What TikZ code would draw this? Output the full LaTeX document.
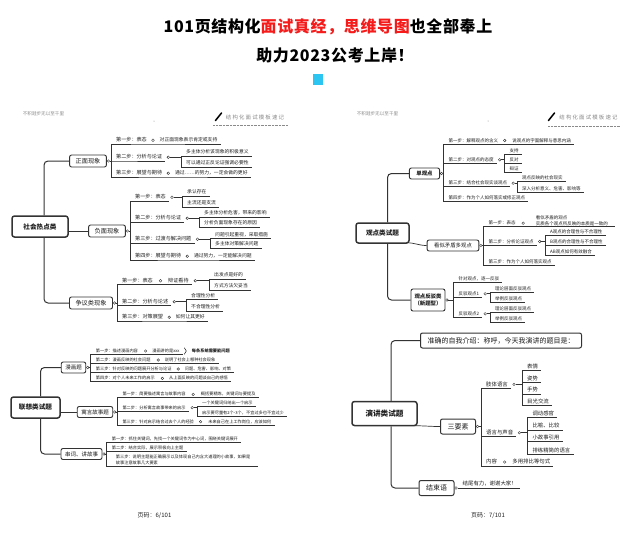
\documentclass[tikz,border=0pt]{standalone}
\usepackage{fontspec}
\setmainfont{Noto Sans CJK SC}
\usetikzlibrary{positioning,decorations.pathreplacing}
\definecolor{ink}{HTML}{1E1E1E}
\definecolor{wire}{HTML}{333333}
\definecolor{faint}{HTML}{8A8A8A}
\definecolor{titlered}{HTML}{F51B1B}
\definecolor{marker}{HTML}{2CC5F2}
\tikzset{
  branch/.style={draw=wire, line width=0.7pt},
  trunk/.style={draw=wire, line width=1pt, rounded corners=4pt},
  knob/.style={circle, draw=wire, fill=white, line width=0.4pt, inner sep=0pt, minimum size=2.6pt},
  item/.style={anchor=south west, text=ink, inner xsep=0pt, inner ysep=0.8pt,
    execute at begin node=\hspace*{5pt}, execute at end node=\hspace*{3pt}},
  stepA/.style={item, font=\fontsize{5.1}{6}\selectfont, text height=4.4pt, text depth=1.1pt},
  leafA/.style={item, font=\fontsize{4.8}{6}\selectfont, text height=4.4pt, text depth=1.1pt},
  leafB/.style={item, font=\fontsize{4.2}{5}\selectfont, text height=3.7pt, text depth=0.9pt},
  leafC/.style={item, font=\fontsize{4.5}{5.4}\selectfont, text height=4pt, text depth=1pt},
  leafD/.style={item, font=\fontsize{5.4}{6.5}\selectfont, text height=4.7pt, text depth=1.2pt},
  twoline/.style={align=left, text height={}, text depth={}, inner xsep=4pt,
    execute at begin node={}, execute at end node={}},
  topic/.style={draw=wire, fill=white, rounded corners=2pt, line width=0.9pt, text=ink,
    font=\fontsize{6.2}{7.4}\selectfont, inner xsep=6pt, inner ysep=0pt, minimum height=12pt},
  topicS/.style={topic, font=\fontsize{5.5}{6.6}\selectfont, inner xsep=4pt, minimum height=11pt},
  topicM/.style={topic, font=\fontsize{5.4}{6.6}\selectfont, inner xsep=7pt, minimum height=11pt},
  topicL/.style={topic, line width=1pt, font=\fontsize{7}{8.4}\selectfont, inner xsep=7pt, minimum height=15pt},
  root/.style={topic, line width=1.5pt, rounded corners=2.5pt, font=\bfseries\fontsize{6.6}{8}\selectfont},
  banner/.style={font=\bfseries\fontsize{16}{19}\selectfont\addfontfeature{LetterSpace=4}, text=black, inner sep=0pt},
  hdr/.style={font=\fontsize{4.6}{5}\selectfont, text=faint, inner sep=0pt},
  hdrwide/.style={font=\fontsize{5.4}{6}\selectfont\addfontfeature{LetterSpace=22}, text=faint, inner sep=0pt},
  penstroke/.style={draw=black, line width=1.5pt, line cap=round},
  dots/.style={draw=faint, line width=0.4pt, dash pattern=on 0.6pt off 0.8pt},
  sumbrace/.style={draw=ink, line width=0.5pt, decorate, decoration={brace, amplitude=2pt}},
  sumtext/.style={font=\bfseries\fontsize{4.2}{5}\selectfont, text=ink, inner sep=0pt},
  pageno/.style={font=\fontsize{6}{7}\selectfont, text=ink, inner sep=0pt}
}
\begin{document}
\begin{tikzpicture}[x=1pt, y=-1pt]
  \path[use as bounding box, fill=white] (0,0) rectangle (643,536);

  % Banner across the top.
  \node[banner] (head1) at (328,27) {101页结构化\textcolor{titlered}{面试真经，思维导图}也全部奉上};
  \node[banner] (head2) at (335,55) {助力2023公考上岸！};
  \fill[marker] (313,74) rectangle (323,85);

  % Page 6: running heads.
  \node[hdr] (mottoL) at (43.5,114) {不积跬步无以至千里};
  \draw[penstroke] (215.5,120.5) -- (221.5,113);
  \node[hdrwide] (noteL) at (255,117) {结构化面试模板速记};
  \draw[dots] (213,125) -- (288,125);
  \fill[faint] (154,121) circle (0.5);

  % Page 6: social hot spots.
  \node[root, minimum width=56pt, minimum height=21pt] (hot) at (40,226.5) {社会热点类};
  \node[topic] (pos) at (88,161) {正面现象};
  \node[topic] (neg) at (107,231) {负面现象};
  \node[topic] (dis) at (91,303) {争议类现象};
  \draw[trunk] ([xshift=4pt]hot.north) |- (pos.west);
  \draw[trunk] ([xshift=4pt]hot.south) |- (dis.west);
  \draw[branch] (hot.east |- neg.west) -- (neg.west);
  \node[knob, right=0pt of pos] (posK) {};
  \node[knob, right=0pt of neg] (negK) {};
  \node[knob, right=0pt of dis] (disK) {};

  \node[stepA] (pos1) at (111,144) {第一步：表态};
  \node[knob, right=1.5pt of pos1] (pos1K) {};
  \node[leafA, right=0pt of pos1K] (pos1a) {对正面现象表示肯定或支持};
  \node[stepA] (pos2) at (111,161) {第二步：分析与论证};
  \node[knob, right=1.5pt of pos2] (pos2K) {};
  \node[leafA] (pos2a) at (181,156) {多主体分析该现象的积极意义};
  \node[leafA] (pos2b) at (181,167) {可以通过正反论证强调必要性};
  \node[stepA] (pos3) at (111,177) {第三步：展望与期待};
  \node[knob, right=1.5pt of pos3] (pos3K) {};
  \node[leafA, right=0pt of pos3K] (pos3a) {通过……的努力，一定会做的更好};
  \draw[branch] (posK.east) -| (pos1.south west) -- (pos1.south east) -- (pos1a.south east)
    (posK.east) -| (pos2.south west) -- (pos2.south east)
    (posK.east) -| (pos3.south west) -- (pos3.south east) -- (pos3a.south east);
  \draw[branch] (pos2K.east) -| (pos2a.south west) -- (pos2a.south east)
    (pos2K.east) -| (pos2b.south west) -- (pos2b.south east);

  \node[stepA] (neg1) at (130,201) {第一步：表态};
  \node[knob, right=1.5pt of neg1] (neg1K) {};
  \node[leafA] (neg1a) at (182,196) {承认存在};
  \node[leafA] (neg1b) at (182,207) {主流还是支流};
  \node[stepA] (neg2) at (130,222) {第二步：分析与论证};
  \node[knob, right=1.5pt of neg2] (neg2K) {};
  \node[leafA] (neg2a) at (199,217) {多主体分析危害，带来的影响};
  \node[leafA] (neg2b) at (199,227) {分析负面现象存在的原因};
  \node[stepA] (neg3) at (130,243) {第三步：过渡与解决问题};
  \node[knob, right=1.5pt of neg3] (neg3K) {};
  \node[leafA] (neg3a) at (210,238.5) {问题引起重视，采取措施};
  \node[leafA] (neg3b) at (210,248) {多主体对策解决问题};
  \node[stepA] (neg4) at (130,260) {第四步：展望与期待};
  \node[knob, right=1.5pt of neg4] (neg4K) {};
  \node[leafA, right=0pt of neg4K] (neg4a) {通过努力，一定能解决问题};
  \draw[branch] (negK.east) -| (neg1.south west) -- (neg1.south east)
    (negK.east) -| (neg2.south west) -- (neg2.south east)
    (negK.east) -| (neg3.south west) -- (neg3.south east)
    (negK.east) -| (neg4.south west) -- (neg4.south east) -- (neg4a.south east);
  \draw[branch] (neg1K.east) -| (neg1a.south west) -- (neg1a.south east)
    (neg1K.east) -| (neg1b.south west) -- (neg1b.south east)
    (neg2K.east) -| (neg2a.south west) -- (neg2a.south east)
    (neg2K.east) -| (neg2b.south west) -- (neg2b.south east)
    (neg3K.east) -| (neg3a.south west) -- (neg3a.south east)
    (neg3K.east) -| (neg3b.south west) -- (neg3b.south east);

  \node[stepA] (dis1) at (117,284.5) {第一步：表态};
  \node[knob, right=3pt of dis1] (dis1K) {};
  \node[stepA, right=1pt of dis1K] (dis1m) {辩证看待};
  \node[knob, right=2pt of dis1m] (dis1mK) {};
  \node[leafA] (dis1a) at (209,279) {出发点是好的};
  \node[leafA] (dis1b) at (209,290) {方式方法欠妥当};
  \node[stepA] (dis2) at (117,305.5) {第二步：分析与论述};
  \node[knob, right=1.5pt of dis2] (dis2K) {};
  \node[leafA] (dis2a) at (186,299.5) {合理性分析};
  \node[leafA] (dis2b) at (186,311) {不合理性分析};
  \node[stepA] (dis3) at (117,321) {第三步：对策展望};
  \node[knob, right=1.5pt of dis3] (dis3K) {};
  \node[leafA, right=0pt of dis3K] (dis3a) {如何让其更好};
  \draw[branch] (disK.east) -| (dis1.south west) -- (dis1.south east) -- (dis1m.south east)
    (disK.east) -| (dis2.south west) -- (dis2.south east)
    (disK.east) -| (dis3.south west) -- (dis3.south east) -- (dis3a.south east);
  \draw[branch] (dis1mK.east) -| (dis1a.south west) -- (dis1a.south east)
    (dis1mK.east) -| (dis1b.south west) -- (dis1b.south east)
    (dis2K.east) -| (dis2a.south west) -- (dis2a.south east)
    (dis2K.east) -| (dis2b.south west) -- (dis2b.south east);

  % Page 6: association questions.
  \node[root, minimum width=49pt, minimum height=21pt] (assoc) at (35.5,407.5) {联想类试题};
  \node[topicS] (comic) at (73.5,367.5) {漫画题};
  \node[topicS] (fable) at (95,412) {寓言故事题};
  \node[topicS] (story) at (81.5,454) {串词、讲故事};
  \draw[trunk] ([xshift=5pt]assoc.north) |- (comic.west);
  \draw[trunk] ([xshift=5pt]assoc.south) |- (story.west);
  \draw[branch] (assoc.east |- fable.west) -- (fable.west);
  \node[knob, right=0pt of comic] (comicK) {};
  \node[knob, right=0pt of fable] (fableK) {};
  \node[knob, right=0pt of story] (storyK) {};

  \node[leafB] (comic1) at (90.7,354.3) {第一步：描述漫画内容};
  \node[knob, right=3pt of comic1] (comic1K) {};
  \node[leafB, right=0pt of comic1K] (comic1a) {漫画讲的是xxx};
  \draw[sumbrace] ([xshift=1.5pt]comic1a.north east) -- ([xshift=1.5pt]comic1a.south east);
  \node[sumtext, anchor=west] (comicSum) at ([xshift=9pt]comic1a.east) {每条系统需要能问题};
  \node[leafB] (comic2) at (90.7,363.3) {第二步：漫画反映的社会问题};
  \node[knob, right=3pt of comic2] (comic2K) {};
  \node[leafB, right=0pt of comic2K] (comic2a) {说明了社会上哪种社会现象};
  \node[leafB] (comic3) at (90.7,372.3) {第三步：针对反映的问题展开分析与论证};
  \node[knob, right=2pt of comic3] (comic3K) {};
  \node[leafB, right=0pt of comic3K] (comic3a) {问题、危害、影响、对策};
  \node[leafB] (comic4) at (90.7,381.7) {第四步：对个人未来工作的启示};
  \node[knob, right=3pt of comic4] (comic4K) {};
  \node[leafB, right=0pt of comic4K] (comic4a) {从上面反映的问题谈自己的感悟};
  \draw[branch] (comicK.east) -| (comic1.south west) -- (comic1a.south east)
    (comicK.east) -| (comic2.south west) -- (comic2a.south east)
    (comicK.east) -| (comic3.south west) -- (comic3a.south east)
    (comicK.east) -| (comic4.south west) -- (comic4a.south east);

  \node[leafB] (fable1) at (117.3,397.7) {第一步：简要描述寓言与故事内容};
  \node[knob, right=3pt of fable1] (fable1K) {};
  \node[leafB, right=1pt of fable1K] (fable1a) {概括要精炼，关键词与要提及};
  \node[leafB] (fable2) at (117.3,411) {第二步：分析寓言故事带来的启示};
  \node[knob, right=2pt of fable2] (fable2K) {};
  \node[leafB] (fable2a) at (197,406.7) {一个关键词归纳出一个启示};
  \node[leafB] (fable2b) at (197,416) {启示要尽量有2个-3个，不宜过多也不宜过少};
  \node[leafB] (fable3) at (117.3,425) {第三步：针对启示结合过去个人的经验};
  \node[knob, right=2pt of fable3] (fable3K) {};
  \node[leafB, right=1pt of fable3K] (fable3a) {未来自己在上工作岗位，应该如何};
  \draw[branch] (fableK.east) -| (fable1.south west) -- (fable1a.south east)
    (fableK.east) -| (fable2.south west) -- (fable2.south east)
    (fableK.east) -| (fable3.south west) -- (fable3a.south east);
  \draw[branch] (fable2K.east) -| (fable2a.south west) -- (fable2a.south east)
    (fable2K.east) -| (fable2b.south west) -- (fable2b.south east);

  \node[leafB] (story1) at (106.7,442.7) {第一步：抓住关键词，先找一个关键词作为中心词，围绕关键词展开};
  \node[leafB] (story2) at (106.7,451) {第二步：结合实际，展示积极向上主题};
  \node[leafB, twoline, font=\fontsize{4.2}{5.7}\selectfont] (story3) at (106.7,466)
    {第三步：说明主题能正确展示以及体现自己内含大道理的小故事，如果是\\故事注意故事几大要素};
  \draw[branch] (storyK.east) -| (story1.south west) -- (story1.south east)
    (storyK.east) -| (story2.south west) -- (story2.south east)
    (storyK.east) -| (story3.south west) -- (story3.south east);

  \node[pageno] (pageL) at (154.5,516) {页码：6/101};

  % Page 7: running heads.
  \node[hdr] (mottoR) at (377.5,114) {不积跬步无以至千里};
  \draw[penstroke] (548.5,120.5) -- (554.5,113);
  \node[hdrwide] (noteR) at (588.5,117) {结构化面试模板速记};
  \draw[dots] (548,126) -- (620,126);
  \fill[faint] (488,121) circle (0.5);

  % Page 7: viewpoint questions.
  \node[root, minimum width=53pt, minimum height=20pt] (view) at (382.5,233) {观点类试题};
  \node[topicM, font=\bfseries\fontsize{5.4}{6.6}\selectfont] (single) at (424.5,173.5) {单观点};
  \node[topicM] (seem) at (453,245.5) {看似矛盾多观点};
  \node[topicM, font=\bfseries\fontsize{5.4}{7.6}\selectfont, align=center, inner xsep=3.5pt,
    minimum height=22pt] (rebut) at (428,300) {观点反驳类\\（新题型）};
  \draw[trunk] ([xshift=5pt]view.north) |- (single.west);
  \draw[trunk] ([xshift=5pt]view.south) |- (rebut.west);
  \draw[branch] ([xshift=-3pt,yshift=1pt]view.south east) to[out=0, in=180] (seem.west);
  \node[knob, right=0pt of single] (singleK) {};
  \node[knob, right=0pt of seem] (seemK) {};
  \node[knob, right=0pt of rebut] (rebutK) {};

  \node[leafC] (single1) at (443.3,144) {第一步：解释观点的含义};
  \node[knob, right=2pt of single1] (single1K) {};
  \node[leafC, right=1pt of single1K] (single1a) {说观点的字面解释与意思内涵};
  \node[leafC] (single2) at (443.3,163.3) {第二步：对观点的态度};
  \node[knob, right=1.5pt of single2] (single2K) {};
  \node[leafC] (single2a) at (504.3,154) {支持};
  \node[leafC] (single2b) at (504.3,163.3) {反对};
  \node[leafC] (single2c) at (504.3,172.3) {辩证};
  \node[leafC] (single3) at (443.3,186.7) {第三步：结合社会现实谈观点};
  \node[knob, right=1.5pt of single3] (single3K) {};
  \node[leafC] (single3a) at (517,181) {观点反映的社会现实};
  \node[leafC] (single3b) at (517,192.3) {深入分析意义、危害、影响等};
  \node[leafC] (single4) at (443.3,201.7) {第四步：作为个人如何落实或修正观点};
  \draw[branch] (singleK.east) -| (single1.south west) -- (single1a.south east)
    (singleK.east) -| (single2.south west) -- (single2.south east)
    (singleK.east) -| (single3.south west) -- (single3.south east)
    (singleK.east) -| (single4.south west) -- (single4.south east);
  \draw[branch] (single2K.east) -| (single2a.south west) -- (single2a.south east)
    (single2K.east) -| (single2b.south west) -- (single2b.south east)
    (single2K.east) -| (single2c.south west) -- (single2c.south east)
    (single3K.east) -| (single3a.south west) -- (single3a.south east)
    (single3K.east) -| (single3b.south west) -- (single3b.south east);

  \node[leafC] (seem1) at (483.3,226.7) {第一步：表态};
  \node[knob, right=3pt of seem1] (seem1K) {};
  \node[leafC, twoline, font=\fontsize{4.5}{5.8}\selectfont, anchor=south west, xshift=2pt]
    (seem1a) at (seem1K.east |- seem1.south) {看似矛盾的观点\\实质各个观点所反映的本质是一致的};
  \node[leafC] (seem2) at (483.3,245) {第二步：分析论证观点};
  \node[knob, right=1.5pt of seem2] (seem2K) {};
  \node[leafC] (seem2a) at (545,235) {A观点的合理性与不合理性};
  \node[leafC] (seem2b) at (545,245) {B观点的合理性与不合理性};
  \node[leafC] (seem2c) at (545,255) {AB观点如何有效融合};
  \node[leafC] (seem3) at (483.3,265) {第三步：作为个人如何落实观点};
  \draw[branch] (seemK.east) -| (seem1.south west) -- (seem1a.south east)
    (seemK.east) -| (seem2.south west) -- (seem2.south east)
    (seemK.east) -| (seem3.south west) -- (seem3.south east);
  \draw[branch] (seem2K.east) -| (seem2a.south west) -- (seem2a.south east)
    (seem2K.east) -| (seem2b.south west) -- (seem2b.south east)
    (seem2K.east) -| (seem2c.south west) -- (seem2c.south east);

  \node[leafC] (rebut1) at (453.3,282.7) {针对观点，逐一反驳};
  \node[leafC] (rebut2) at (453.3,297.3) {反驳观点1};
  \node[knob, right=1.5pt of rebut2] (rebut2K) {};
  \node[leafC] (rebut2a) at (490,292.7) {理论层面反驳观点};
  \node[leafC] (rebut2b) at (490,302.3) {举例反驳观点};
  \node[leafC] (rebut3) at (453.3,317.3) {反驳观点2};
  \node[knob, right=1.5pt of rebut3] (rebut3K) {};
  \node[leafC] (rebut3a) at (490,312.7) {理论层面反驳观点};
  \node[leafC] (rebut3b) at (490,322.3) {举例反驳观点};
  \draw[branch] (rebutK.east) -| (rebut1.south west) -- (rebut1.south east)
    (rebutK.east) -| (rebut2.south west) -- (rebut2.south east)
    (rebutK.east) -| (rebut3.south west) -- (rebut3.south east);
  \draw[branch] (rebut2K.east) -| (rebut2a.south west) -- (rebut2a.south east)
    (rebut2K.east) -| (rebut2b.south west) -- (rebut2b.south east)
    (rebut3K.east) -| (rebut3a.south west) -- (rebut3a.south east)
    (rebut3K.east) -| (rebut3b.south west) -- (rebut3b.south east);

  % Page 7: speech questions.
  \node[root, minimum width=65pt, minimum height=24pt, font=\bfseries\fontsize{7.6}{9}\selectfont]
    (speech) at (384.5,413.5) {演讲类试题};
  \node[topicL] (intro) at (501,340.5) {准确的自我介绍：称呼，今天我演讲的题目是：};
  \node[topicL] (three) at (458,426.5) {三要素};
  \node[topicL] (close) at (436.5,488) {结束语};
  \draw[trunk] ([xshift=6.5pt]speech.north) |- (intro.west);
  \draw[trunk] ([xshift=6.5pt]speech.south) |- (close.west);
  \draw[branch] ([xshift=-3pt,yshift=0.5pt]speech.south east) to[out=0, in=180] (three.west);
  \node[knob, right=0pt of three] (threeK) {};
  \node[knob, right=0pt of close] (closeK) {};

  \node[leafD] (three1) at (481,388.3) {肢体语言};
  \node[knob, right=1.5pt of three1] (three1K) {};
  \node[leafD] (three1a) at (522,370.7) {表情};
  \node[leafD] (three1b) at (522,382.3) {姿势};
  \node[leafD] (three1c) at (522,394) {手势};
  \node[leafD] (three1d) at (522,405.3) {目光交流};
  \node[leafD] (three2) at (481,436.7) {语言与声音};
  \node[knob, right=1.5pt of three2] (three2K) {};
  \node[leafD] (three2a) at (527.3,417.3) {调动感官};
  \node[leafD] (three2b) at (527.3,430) {比喻、比较};
  \node[leafD] (three2c) at (527.3,441.7) {小故事引用};
  \node[leafD] (three2d) at (527.3,454.3) {排练精简的语言};
  \node[leafD] (three3) at (481,466) {内容};
  \node[knob, right=3pt of three3] (three3K) {};
  \node[leafD, right=1pt of three3K] (three3a) {多用排比等句式};
  \draw[branch] (threeK.east) -| (three1.south west) -- (three1.south east)
    (threeK.east) -| (three2.south west) -- (three2.south east)
    (threeK.east) -| (three3.south west) -- (three3a.south east);
  \draw[branch] (three1K.east) -| (three1a.south west) -- (three1a.south east)
    (three1K.east) -| (three1b.south west) -- (three1b.south east)
    (three1K.east) -| (three1c.south west) -- (three1c.south east)
    (three1K.east) -| (three1d.south west) -- (three1d.south east)
    (three2K.east) -| (three2a.south west) -- (three2a.south east)
    (three2K.east) -| (three2b.south west) -- (three2b.south east)
    (three2K.east) -| (three2c.south west) -- (three2c.south east)
    (three2K.east) -| (three2d.south west) -- (three2d.south east);

  \node[leafD, anchor=south west] (close1) at (closeK.east) {结尾有力，谢谢大家！};
  \draw[branch] (closeK.east) -- (close1.south east);

  \node[pageno] (pageR) at (488,515.7) {页码：7/101};
\end{tikzpicture}
\end{document}
